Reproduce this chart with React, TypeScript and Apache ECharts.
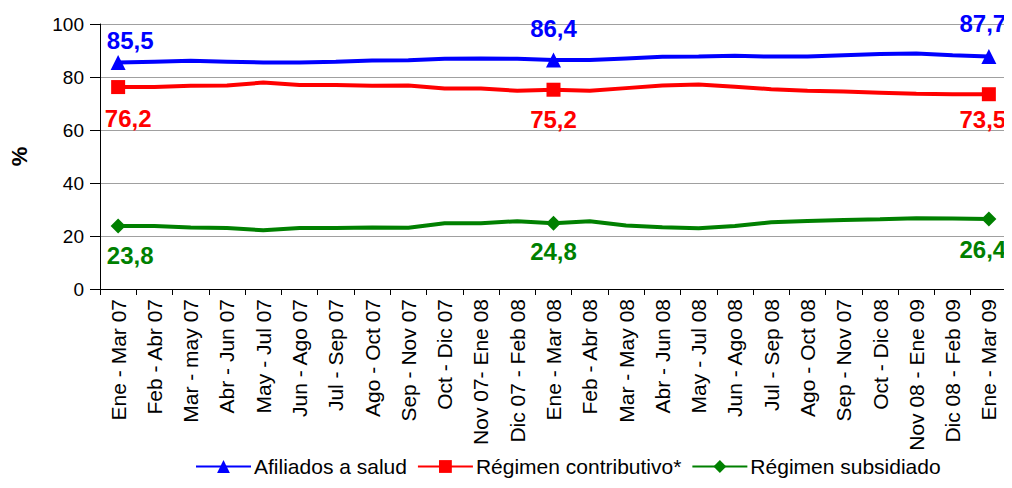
import React, { useEffect, useRef } from "react";
import * as echarts from "echarts";

const categories = [
  "Ene - Mar 07", "Feb - Abr 07", "Mar - may 07", "Abr - Jun 07", "May - Jul 07",
  "Jun - Ago 07", "Jul - Sep 07", "Ago - Oct 07", "Sep - Nov 07", "Oct - Dic 07",
  "Nov 07- Ene 08", "Dic 07 - Feb 08", "Ene - Mar 08", "Feb - Abr 08", "Mar - May 08",
  "Abr - Jun 08", "May - Jul 08", "Jun - Ago 08", "Jul - Sep 08", "Ago - Oct 08",
  "Sep - Nov 07", "Oct - Dic 08", "Nov 08 - Ene 09", "Dic 08 - Feb 09", "Ene - Mar 09",
];

const afiliados = [85.5, 85.8, 86.1, 85.8, 85.5, 85.5, 85.8, 86.2, 86.3, 86.9, 87.0, 86.9, 86.4, 86.4, 87.0, 87.6, 87.7, 88.0, 87.7, 87.7, 88.2, 88.7, 88.9, 88.2, 87.7];
const contributivo = [76.2, 76.2, 76.7, 76.8, 77.9, 77.0, 77.0, 76.7, 76.8, 75.7, 75.7, 74.8, 75.2, 74.8, 75.8, 76.8, 77.2, 76.3, 75.4, 74.8, 74.5, 74.1, 73.7, 73.5, 73.5];
const subsidiado = [23.8, 23.8, 23.2, 23.0, 22.2, 23.0, 23.0, 23.2, 23.1, 24.8, 24.8, 25.6, 24.8, 25.6, 24.0, 23.3, 22.9, 23.8, 25.2, 25.7, 26.0, 26.3, 26.7, 26.6, 26.4];

const seriesNames = ["Afiliados a salud", "Régimen contributivo*", "Régimen subsidiado"];
const yTicks = [0, 20, 40, 60, 80, 100];
const markedIdx = [0, 12, 24];

const FONT = "Liberation Sans, Arial, sans-serif";

function fmt(v: number) {
  return v.toFixed(1).replace(".", ",");
}

function buildData(
  values: number[],
  color: string,
  pos: "top" | "bottom",
  distances: number[],
  offsets: number[][]
) {
  return values.map((v, i) => {
    const k = markedIdx.indexOf(i);
    if (k < 0) return { value: v, symbol: "none" };
    return {
      value: v,
      label: {
        show: true,
        position: pos,
        distance: distances[k],
        offset: offsets[k],
        formatter: fmt(v),
        color,
        fontSize: 24,
        fontWeight: "bold",
        fontFamily: FONT,
      },
    };
  });
}

export default function App() {
  const ref = useRef<HTMLDivElement>(null);
  useEffect(() => {
    if (!ref.current) return;
    const chart = echarts.init(ref.current, undefined, { renderer: "svg" });
    chart.setOption({
      animation: false,
      textStyle: { fontFamily: FONT },
      grid: { left: 96, right: 5, top: 24, bottom: 199, containLabel: false },
      legend: {
        top: 456,
        left: 195,
        itemWidth: 55,
        itemHeight: 16,
        itemGap: 10,
        padding: 0,
        textStyle: { fontSize: 21, color: "#000", fontFamily: FONT, padding: [0, 0, 0, -2] },
        data: seriesNames,
      },
      xAxis: {
        type: "category",
        data: categories,
        boundaryGap: true,
        axisLine: { lineStyle: { color: "#000", width: 1 } },
        axisTick: { show: true, length: 6, lineStyle: { color: "#000" }, interval: 0 },
        axisLabel: {
          interval: 0,
          rotate: 90,
          fontSize: 21,
          color: "#000",
          margin: 10,
          fontFamily: FONT,
        },
      },
      yAxis: {
        type: "value",
        min: yTicks[0],
        max: yTicks[yTicks.length - 1],
        interval: 20,
        name: "%",
        nameLocation: "middle",
        nameRotate: 90,
        nameGap: 70,
        nameTextStyle: { fontSize: 22, fontWeight: "bold", color: "#000", fontFamily: FONT },
        axisLine: { show: true, lineStyle: { color: "#000", width: 1 } },
        axisTick: { show: true, length: 10, lineStyle: { color: "#000" } },
        axisLabel: { fontSize: 19, color: "#000", margin: 16, fontFamily: FONT },
        splitLine: { show: true, lineStyle: { color: "#a0a0a0", width: 1 } },
      },
      series: [
        {
          name: seriesNames[0],
          type: "line",
          symbol: "triangle",
          symbolSize: 15,
          itemStyle: { color: "#0000ff" },
          lineStyle: { color: "#0000ff", width: 4 },
          data: buildData(afiliados, "#0000ff", "top", [2, 12, 14], [[12, 0], [0, 0], [-6, 0]]),
          z: 3,
        },
        {
          name: seriesNames[1],
          type: "line",
          symbol: "rect",
          symbolSize: 14,
          itemStyle: { color: "#ff0000" },
          lineStyle: { color: "#ff0000", width: 4 },
          data: buildData(contributivo, "#ff0000", "bottom", [12, 11, 6], [[10, 0], [0, 0], [-6, 0]]),
          z: 2,
        },
        {
          name: seriesNames[2],
          type: "line",
          symbol: "diamond",
          symbolSize: 15,
          itemStyle: { color: "#008000" },
          lineStyle: { color: "#008000", width: 4 },
          data: buildData(subsidiado, "#008000", "bottom", [10, 9, 11], [[12, 0], [0, 0], [-6, 0]]),
          z: 1,
        },
      ],
    });
    return () => chart.dispose();
  }, []);
  return <div ref={ref} style={{ width: 1012, height: 488, margin: -8 }} />;
}
